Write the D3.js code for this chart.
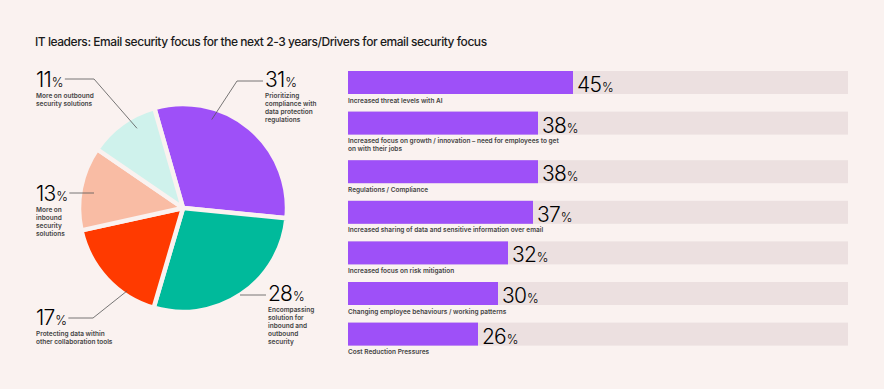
<!DOCTYPE html>
<meta charset="utf-8">
<title>Email security focus</title>
<style>
html, body {
  margin: 0;
  padding: 0;
  background: #FAF2F0;
}
svg { display: block; }
.title { font-family: Inter, "Open Sans", sans-serif; font-size: 12px; letter-spacing: -0.45px; font-weight: 500; fill: #1b1b1b; }
.num { font-family: Inter, Lato, sans-serif; font-weight: 300; fill: #000; letter-spacing: -0.8px; }
.small { font-family: Inter, sans-serif; font-size: 6.5px; font-weight: 600; fill: #444; }
.leader { stroke: #555; stroke-width: 0.8; fill: none; }
</style>
<body>
<svg width="884" height="389"></svg>
<script src="https://cdnjs.cloudflare.com/ajax/libs/d3/7.8.5/d3.min.js"></script>
<script>

var pieValues = [31, 28, 17, 13, 11];
var pieLabels = [
  "Prioritizing\ncompliance with\ndata protection\nregulations",
  "Encompassing\nsolution for\ninbound and\noutbound\nsecurity",
  "Protecting data within\nother collaboration tools",
  "More on\ninbound\nsecurity\nsolutions",
  "More on outbound\nsecurity solutions"
];
var pieColors = ["#9E50F8", "#00BA9B", "#FF3A00", "#F9BCA4", "#CFF2EC"];

var barLabels = [
  "Increased threat levels with AI",
  "Increased focus on growth / innovation \u2013 need for employees to get\non with their jobs",
  "Regulations / Compliance",
  "Increased sharing of data and sensitive information over email",
  "Increased focus on risk mitigation",
  "Changing employee behaviours / working patterns",
  "Cost Reduction Pressures"
];
var barValues = [45, 38, 38, 37, 32, 30, 26];

var svg = d3.select("svg");

svg.append("text")
  .attr("class", "title")
  .attr("x", 35)
  .attr("y", 46)
  .text("IT leaders: Email security focus for the next 2-3 years/Drivers for email security focus");

// ---- pie ----
var cx = 183, cy = 208, r = 104;
var startAngle = -16 * Math.PI / 180;

var pie = d3.pie().sort(null)
  .startAngle(startAngle)
  .endAngle(startAngle + 2 * Math.PI);
var arc = d3.arc().innerRadius(0).outerRadius(r);

var g = svg.append("g").attr("transform", "translate(" + cx + "," + cy + ")");

var arcs = pie(pieValues);

g.selectAll("path")
  .data(arcs)
  .enter().append("path")
  .attr("d", arc)
  .attr("fill", function(d, i) { return pieColors[i]; })
  .attr("stroke", "#FAF2F0")
  .attr("stroke-width", 4.5)
  .attr("stroke-linejoin", "round");

// label layout relative to the pie centre: text position, elbow of the leader, anchor on the slice
var pieLayout = [
  {tx: 82, ty: -121, elbow: [54, -127], ang: 18, rad: 93},
  {tx: 85, ty: 93, elbow: [57, 87], flat: true},
  {tx: -147, ty: 117, elbow: [-90, 110], ang: 214, rad: 100, dotRight: true},
  {tx: -147, ty: -7, elbow: [-89, -15], flat: true, dotRight: true},
  {tx: -147, ty: -121, elbow: [-89, -129], ang: 330, rad: 92, dotRight: true}
];

arcs.forEach(function(d, i) {
  var L = pieLayout[i];
  var numX = L.tx, numY = L.ty;
  var t = g.append("text").attr("class", "num").attr("x", numX).attr("y", numY);
  t.append("tspan").attr("font-size", 21).text(pieValues[i]);
  t.append("tspan").attr("font-size", 12.5).attr("dx", 0.8).text("%");
  var w = t.node().getComputedTextLength();
  var ex = L.dotRight ? numX + w + 3 : numX - 2;
  var p = "M" + ex + "," + L.elbow[1] + "H" + L.elbow[0];
  if (!L.flat) {
    var a = L.ang * Math.PI / 180;
    p += "L" + (Math.sin(a) * L.rad) + "," + (-Math.cos(a) * L.rad);
  }
  g.append("path").attr("class", "leader").attr("d", p);
  var lt = g.append("text").attr("class", "small");
  pieLabels[i].split("\n").forEach(function(s, k) {
    lt.append("tspan").attr("x", numX).attr("y", numY + 11 + k * 8).text(s);
  });
});

// ---- bars ----
var bx0 = 348, bw = 500, bh = 23;
var x = d3.scaleLinear().domain([0, 100]).range([bx0, bx0 + bw]);

var ys = [], yy = 71;
barLabels.forEach(function(s) {
  ys.push(yy);
  yy += 40.6 + 8 * (s.split("\n").length - 1);
});

var row = svg.append("g").selectAll("g")
  .data(barValues)
  .enter().append("g")
  .attr("transform", function(d, i) { return "translate(0," + ys[i] + ")"; });

row.append("rect")
  .attr("x", x(0)).attr("y", 0)
  .attr("width", x(100) - x(0)).attr("height", bh)
  .attr("fill", "#ECE0E0");

row.append("rect")
  .attr("x", x(0)).attr("y", 0)
  .attr("width", function(d) { return x(d) - x(0); })
  .attr("height", bh)
  .attr("fill", "#9E50F8");

var vt = row.append("text").attr("class", "num")
  .attr("x", function(d) { return x(d) + 4; })
  .attr("y", 21);
vt.append("tspan").attr("font-size", 21).text(function(d) { return d; });
vt.append("tspan").attr("font-size", 12.5).attr("dx", 0.8).text("%");

row.append("text").attr("class", "small")
  .each(function(d, i) {
    var t = d3.select(this);
    barLabels[i].split("\n").forEach(function(s, k) {
      t.append("tspan").attr("x", x(0)).attr("y", bh + 8.5 + k * 8).text(s);
    });
  });

</script>
</body>
